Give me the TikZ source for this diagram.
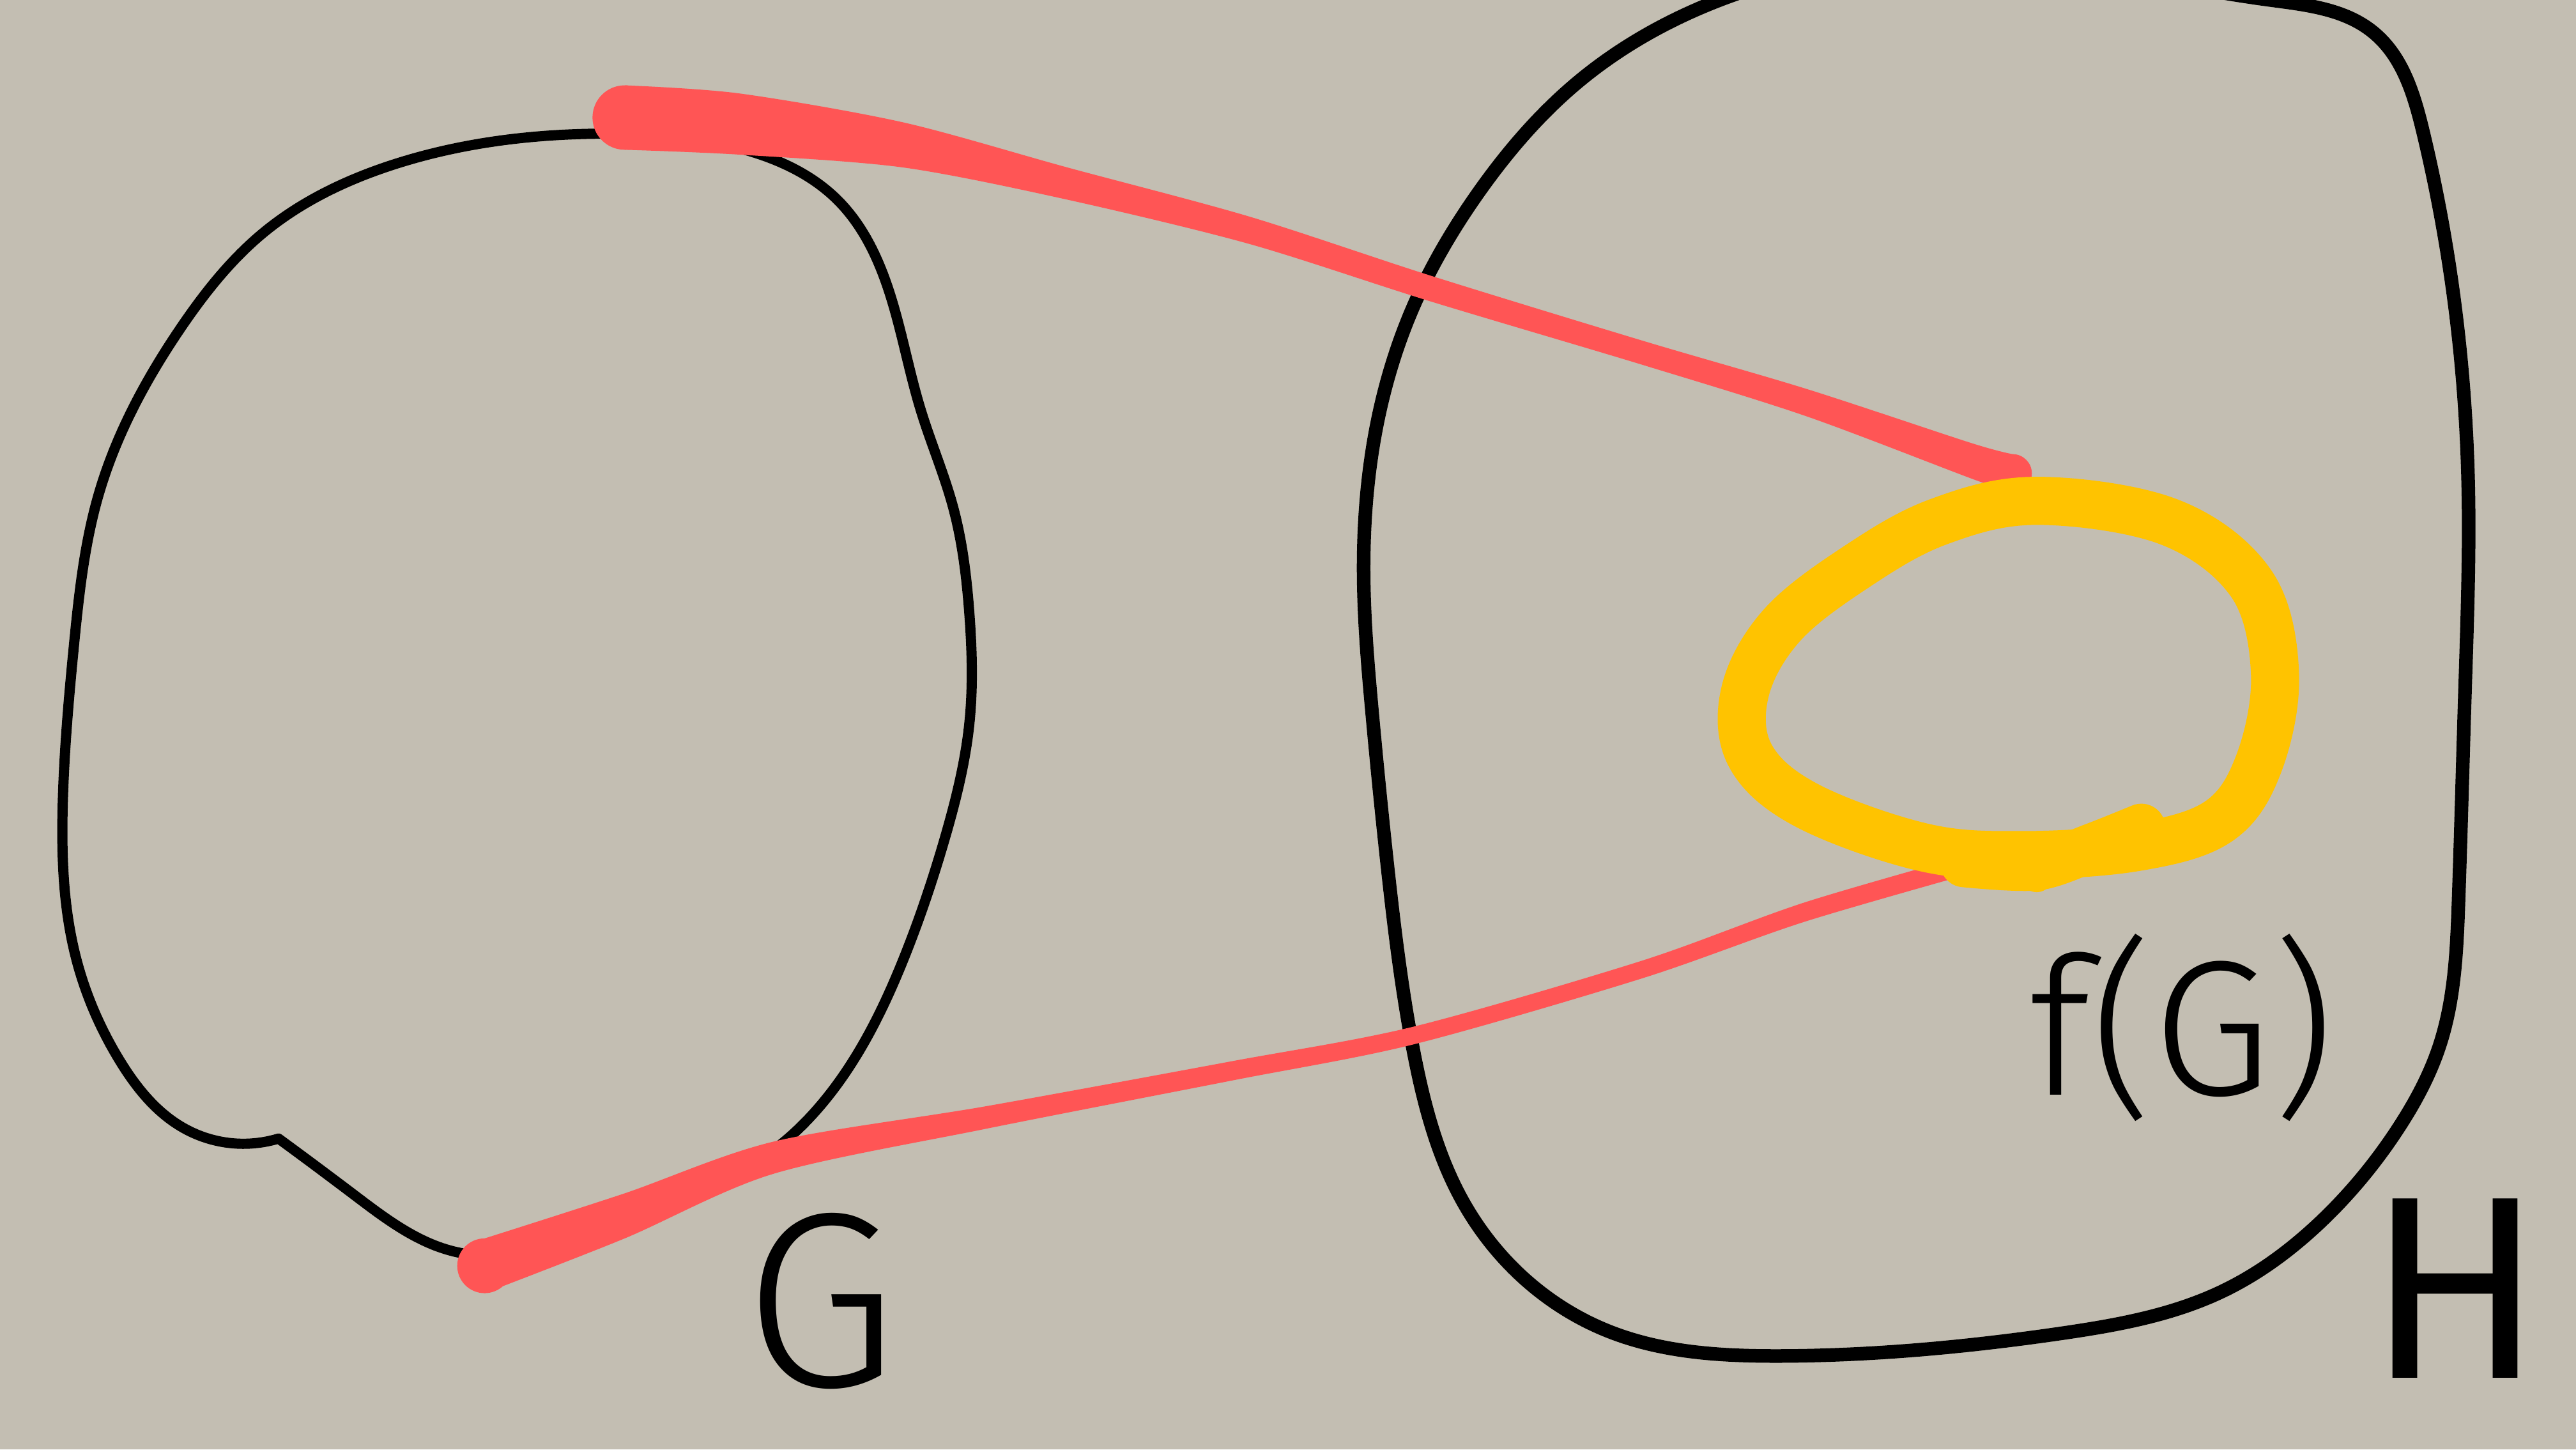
\documentclass[tikz,border=0pt]{standalone}
\usepackage{fontspec}
\setsansfont{Fira Sans}
\newfontfamily\handfont{Fira Sans Light}
\usepackage{xcolor}
\usetikzlibrary{positioning, hobby}
\definecolor{paper}{HTML}{C3BEB2}
\definecolor{mapred}{HTML}{FF5555}
\definecolor{imgyellow}{HTML}{FFC300}

\begin{document}
\begin{tikzpicture}[
  use Hobby shortcut,
  outline/.style={draw=black, line width=#1, line cap=round, line join=round},
  outline/.default=1.8pt,
  imgloop/.style={draw=imgyellow, line width=8.5pt, line cap=round, line join=round},
  lbl/.style={font=\handfont\fontsize{#1}{#1}\selectfont, inner sep=0pt}
]
\fill[paper] (0,0) rectangle (16,9);
\useasboundingbox (0,0) rectangle (16,9);

% the two sets
\draw[outline] (1.73,1.93) .. (1.15,1.99) .. (0.74,2.42) .. (0.47,3.06)
  .. (0.39,4.02) .. (0.46,5.0) .. (0.61,5.92) .. (1.12,6.96) .. (1.63,7.55) .. (2.45,7.98)
  .. (3.78,8.17) .. (4.59,8.08) .. (5.2,7.76) .. (5.55,7.1) .. (5.72,6.45) .. (5.92,5.85)
  .. (6.02,5.2) .. (6.02,4.5) .. (5.87,3.8) .. (5.61,3.04) .. (5.1,2.14) .. (4.75,1.82)
  .. (3.9,1.45) .. (2.86,1.22) .. (2.2,1.58) .. (1.73,1.93);
\draw[outline=2.4pt, closed=true] (11.07,0.58) .. (10.0,0.73) .. (9.49,1.04) .. (9.08,1.55)
  .. (8.78,2.47) .. (8.62,3.6) .. (8.52,4.6) .. (8.47,5.4) .. (8.57,6.45) .. (8.78,7.1)
  .. (9.18,7.8) .. (9.8,8.49) .. (10.82,9.05) .. (12.4,9.25) .. (14.1,9.0) .. (14.74,8.80)
  .. (15.05,8.18) .. (15.22,7.3) .. (15.33,6.0) .. (15.31,4.7) .. (15.27,3.4) .. (15.15,2.5)
  .. (14.9,2.0) .. (14.4,1.4) .. (13.8,0.98) .. (12.8,0.72);

\coordinate (gtop) at (3.88,8.27);
\coordinate (gbot) at (3.01,1.14);
\coordinate (ftop) at (12.50,6.06);
\coordinate (fbot) at (12.40,3.68);

% the map
\fill[mapred] (gtop) circle (0.2);
\fill[mapred] plot[smooth] coordinates {(3.88,8.47) (4.59,8.42) (5.61,8.24) (6.63,7.96)
  (7.76,7.655) (8.88,7.29) (10.20,6.885) (11.22,6.585) (12.24,6.25) (12.50,6.18)}
  -- plot[smooth] coordinates {(12.50,5.94) (12.24,6.03) (11.22,6.415) (10.20,6.735)
  (8.88,7.13) (7.76,7.485) (6.63,7.76) (5.61,7.96) (4.59,8.04) (3.88,8.07)} -- cycle;
\fill[mapred] (ftop) circle (0.12);

\fill[mapred] (gbot) circle (0.17);
\fill[mapred] plot[smooth] coordinates {(3.01,1.31) (3.88,1.59) (4.80,1.91) (6.12,2.13)
  (7.65,2.41) (8.78,2.625) (10.20,3.035) (11.22,3.40) (12.40,3.74)}
  -- plot[smooth] coordinates {(12.40,3.62) (11.22,3.28) (10.20,2.925)
  (8.78,2.515) (7.65,2.29) (6.12,1.99) (4.80,1.71) (3.88,1.31) (3.01,0.97)} -- cycle;

% the image
\draw[imgloop] plot[smooth cycle, tension=0.6] coordinates {
  (12.65,5.89) (13.47,5.76) (13.98,5.38) (14.13,4.82) (14.03,4.26) (13.78,3.90)
  (13.27,3.74) (12.55,3.69) (11.94,3.74) (11.22,4.00) (10.87,4.31) (10.84,4.71)
  (11.07,5.12) (11.53,5.48) (12.04,5.76)};
\draw[imgloop] plot[smooth] coordinates {(12.2,3.64) (12.65,3.62) (13.0,3.74) (13.3,3.86)};
\fill[imgyellow] (12.65,3.56) circle (0.1);

\node[lbl=44pt] (glbl) at (5.1,0.92) {G};
\node[lbl=34pt] (flbl) at (13.55,2.62) {f(G)};
\node[lbl=46pt, font=\sffamily\fontsize{46pt}{46pt}\selectfont] (hlbl) at (15.25,1.0) {H};
\end{tikzpicture}
\end{document}
